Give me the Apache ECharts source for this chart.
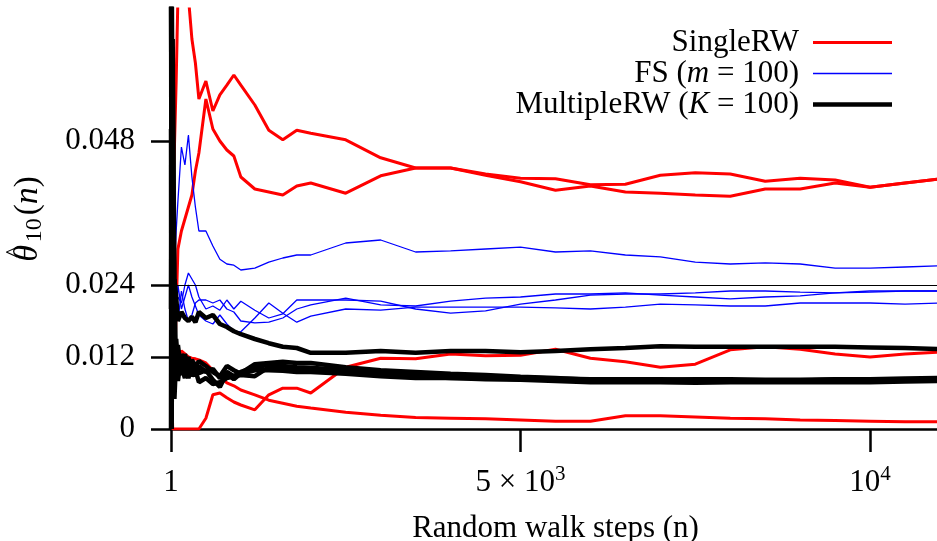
<!DOCTYPE html>
<html>
<head>
<meta charset="utf-8">
<script src="https://cdn.jsdelivr.net/npm/echarts@6/dist/echarts.min.js"></script>
<style>html,body{margin:0;padding:0;background:#fff;}#c{width:937px;height:541px;}</style>
</head>
<body>
<div id="c"></div>
<script>
// Random walk steps (x positions of samples)
const steps = [1,10,25,50,75,100,150,200,250,300,350,400,500,600,700,800,900,1000,1200,1400,1600,1800,2000,2500,3000,3500,4000,4500,5000,5500,6000,6500,7000,7500,8000,8500,9000,9500,10000,10500,11000];

// SingleRW runs
const singleRW1 = [0.03,0.045,0.038,0.047,0.058,0.072,0.071,0.073,0.072,0.065,0.061,0.055,0.058,0.053,0.0557,0.0573,0.059,0.0573,0.054,0.0498,0.0482,0.0498,0.0493,0.0482,0.0452,0.0435,0.0435,0.0425,0.0418,0.0417,0.0407,0.0408,0.0423,0.0427,0.0425,0.0413,0.0418,0.0415,0.0403,0.041,0.0417];
const singleRW2 = [0.0,0.012,0.005,0.009,0.02,0.030,0.033,0.035,0.037,0.039,0.043,0.046,0.055,0.05,0.048,0.0465,0.0455,0.042,0.040,0.0395,0.039,0.0405,0.041,0.0393,0.0422,0.0435,0.0435,0.0423,0.0412,0.0398,0.0405,0.0395,0.0393,0.039,0.0388,0.040,0.040,0.041,0.0403,0.041,0.0417];
const singleRW3 = [0.02,0.008,0,0,0,0,0,0,0,0,0,0,0.0018,0.0057,0.006,0.0052,0.0045,0.004,0.0032,0.0057,0.0068,0.0068,0.006,0.0103,0.0118,0.0117,0.0125,0.0122,0.0123,0.0133,0.0118,0.0112,0.0103,0.0108,0.0132,0.0137,0.0133,0.0125,0.012,0.0125,0.0128];
const singleRW4 = [0.07,0.03,0.018,0.014,0.01,0.012,0.013,0.0125,0.012,0.0118,0.0117,0.0115,0.011,0.0098,0.0088,0.0077,0.0072,0.0065,0.0057,0.0048,0.0043,0.0038,0.0035,0.0028,0.0023,0.0019,0.0018,0.0017,0.0015,0.0013,0.0013,0.0022,0.0022,0.002,0.0018,0.0017,0.0015,0.0014,0.0013,0.0012,0.0012];

// FS (m = 100) runs
const fs1 = [0.015,0.03,0.02,0.027,0.033,0.038,0.047,0.044,0.049,0.042,0.037,0.033,0.033,0.0305,0.0283,0.0275,0.0273,0.0265,0.0268,0.0278,0.0285,0.029,0.029,0.031,0.0315,0.0295,0.0297,0.030,0.0303,0.0295,0.0297,0.029,0.0287,0.0278,0.0275,0.0277,0.0275,0.0268,0.0268,0.027,0.0272];
const fs2 = [0.02,0.012,0.02,0.015,0.02,0.022,0.021,0.024,0.026,0.025,0.024,0.022,0.02,0.0205,0.0198,0.0215,0.020,0.0213,0.0198,0.0185,0.0192,0.0215,0.0215,0.0215,0.0213,0.0200,0.0193,0.0197,0.0208,0.0215,0.0223,0.0225,0.0225,0.0227,0.0230,0.023,0.0228,0.0227,0.0228,0.023,0.0230];
const fs3 = [0.01,0.025,0.016,0.022,0.018,0.024,0.02,0.022,0.024,0.022,0.0205,0.019,0.018,0.0175,0.019,0.0175,0.0163,0.0162,0.0185,0.021,0.0193,0.0178,0.0188,0.020,0.0198,0.0203,0.0203,0.0203,0.0203,0.0202,0.020,0.0203,0.0208,0.0207,0.0205,0.0205,0.021,0.021,0.021,0.0208,0.021];
const fs4 = [0.03,0.008,0.02,0.012,0.025,0.018,0.023,0.02,0.018,0.019,0.021,0.0215,0.0215,0.021,0.0215,0.020,0.0195,0.018,0.0177,0.0178,0.0185,0.020,0.0207,0.0218,0.0207,0.0205,0.0213,0.0218,0.022,0.0225,0.0225,0.0227,0.0223,0.022,0.0217,0.022,0.0222,0.0227,0.023,0.023,0.023];

// MultipleRW (K = 100) runs
const multiRW1 = [0.075,0.04,0.06,0.025,0.022,0.018,0.0195,0.0185,0.018,0.0187,0.0178,0.0195,0.0185,0.019,0.0175,0.0170,0.0163,0.0158,0.0150,0.0143,0.0137,0.0135,0.0127,0.0127,0.013,0.0127,0.013,0.013,0.0128,0.013,0.0133,0.0135,0.0138,0.0137,0.0137,0.0137,0.0137,0.0137,0.0136,0.0135,0.0133];
const multiRW2 = [0.0,0.08,0.02,0.005,0.012,0.008,0.0125,0.0105,0.012,0.0095,0.011,0.0093,0.0098,0.0082,0.007,0.0093,0.0083,0.0093,0.0108,0.011,0.0112,0.011,0.011,0.0103,0.0098,0.0095,0.0092,0.009,0.0087,0.0085,0.0082,0.0082,0.0082,0.0083,0.0083,0.0082,0.0082,0.0083,0.0083,0.0084,0.0085];
const multiRW3 = [0.085,0.0,0.03,0.01,0.015,0.011,0.009,0.0125,0.0095,0.0115,0.0105,0.0113,0.0105,0.0095,0.0088,0.0105,0.0098,0.0092,0.0098,0.0098,0.0097,0.0095,0.0095,0.0092,0.0088,0.0085,0.0085,0.0083,0.0082,0.008,0.0078,0.0078,0.0078,0.0077,0.0078,0.0078,0.0078,0.0078,0.0078,0.0079,0.008];
const multiRW4 = [0.02,0.09,0.005,0.025,0.008,0.014,0.0095,0.0105,0.0085,0.0105,0.0088,0.0105,0.0095,0.01,0.0085,0.0095,0.0088,0.009,0.0088,0.0103,0.0102,0.01,0.0098,0.0095,0.0092,0.0088,0.0085,0.0085,0.0083,0.0083,0.0082,0.0081,0.008,0.008,0.0081,0.008,0.0081,0.0082,0.0081,0.0082,0.0083];
const multiRW5 = [0.05,0.0,0.065,0.015,0.01,0.0125,0.0105,0.0085,0.011,0.0088,0.0098,0.0078,0.0085,0.0075,0.0078,0.0085,0.0088,0.0095,0.0103,0.0107,0.0105,0.0103,0.0102,0.0098,0.0095,0.0092,0.009,0.0088,0.0086,0.0084,0.0083,0.0083,0.0083,0.0082,0.0081,0.0081,0.008,0.008,0.0081,0.0082,0.0082];

// Axis ticks and labels
const xTicks = [1, 5000, 10000];
const yTicks = [0, 0.012, 0.024, 0.048];
const trueValue = 0.024;
const names = ['SingleRW', 'FS (m = 100)', 'MultipleRW (K = 100)'];

const FONT = 'Liberation Serif';
const RED = '#ff0000', BLUE = '#0000ff', BLACK = '#000000';
const W_RED = 3, W_BLUE = 1.3, W_BLACK = 4.5;
function pairs(vals){ return steps.map((s,i)=>[s, vals[i]]); }
function mk(name, vals, color, width, extra){
  return Object.assign({
    name: name, type: 'line', data: pairs(vals), symbol: 'none', showSymbol: false,
    lineStyle: {color: color, width: width}, itemStyle: {color: color},
    clip: true, animation: false, z: 2
  }, extra || {});
}
const series = [];
[singleRW1, singleRW2, singleRW3, singleRW4].forEach((v,i)=>series.push(mk(names[0], v, RED, W_RED,
  i===0 ? {markLine: {silent: true, symbol: 'none', precision: 6, label: {show: false},
    lineStyle: {color: '#000', width: 1.2, type: 'solid'}, data: [{yAxis: trueValue}], animation: false}} : null)));
[fs1, fs2, fs3, fs4].forEach(v=>series.push(mk(names[1], v, BLUE, W_BLUE)));
[multiRW1, multiRW2, multiRW3, multiRW4, multiRW5].forEach(v=>series.push(mk(names[2], v, BLACK, W_BLACK)));

function bar(h){ return 'path://M0,0H79V' + h + 'H0Z'; }

const chart = echarts.init(document.getElementById('c'), null, {renderer: 'canvas'});
chart.setOption({
  animation: false,
  backgroundColor: '#fff',
  grid: {left: 171, top: 9, width: 769, height: 420, containLabel: false, outerBoundsMode: 'none'},
  legend: {
    orient: 'vertical', right: 45, top: 27, align: 'right', padding: 0,
    itemWidth: 79, itemHeight: 14, itemGap: 0,
    symbolKeepAspect: true,
    data: [
      {name: names[0], icon: bar(W_RED), itemStyle: {color: RED, borderWidth: 0}},
      {name: names[1], icon: bar(W_BLUE), itemStyle: {color: BLUE, borderWidth: 0}},
      {name: names[2], icon: bar(W_BLACK), itemStyle: {color: BLACK, borderWidth: 0}}
    ],
    formatter: function(n){
      if (n === names[1]) return '{r|FS (}{i|m}{r| = 100)}';
      if (n === names[2]) return '{r|MultipleRW (}{i|K}{r| = 100)}';
      return '{r|' + n + '}';
    },
    textStyle: {fontFamily: FONT, fontSize: 31, color: '#000', padding: [0, 9, 0, 0],
      rich: {r: {fontFamily: FONT, fontSize: 31, lineHeight: 29, color: '#000'},
             i: {fontFamily: FONT, fontSize: 31, lineHeight: 29, fontStyle: 'italic', color: '#000'}}}
  },
  xAxis: {
    type: 'value', min: 1, max: 11000,
    name: 'Random walk steps (n)', nameLocation: 'middle', nameGap: 84,
    nameTextStyle: {fontFamily: FONT, fontSize: 31, color: '#000'},
    axisLine: {show: true, lineStyle: {color: '#000', width: 2.5}},
    axisTick: {show: true, length: 23, lineStyle: {color: '#000', width: 2.5}, customValues: xTicks},
    axisLabel: {customValues: xTicks, margin: 38, color: '#000',
      formatter: function(v){
        if (v === 1) return '{n|1}';
        if (v === 5000) return '{n|5 × 10}{sup|3}';
        if (v === 10000) return '{n|10}{sup|4}';
        return '';
      },
      rich: {n: {fontFamily: FONT, fontSize: 31, lineHeight: 31, color: '#000'},
             sup: {fontFamily: FONT, fontSize: 21, lineHeight: 21, padding: [0, 0, 16, 0], color: '#000'}}},
    splitLine: {show: false}
  },
  yAxis: {
    type: 'value', min: 0, max: 0.07,
    name: '{h|^}\n{i|θ}{s|10}{r|(}{n|n}{r|)}', nameLocation: 'middle', nameGap: 131,
    nameTextStyle: {fontFamily: FONT, fontSize: 33, color: '#000', align: 'center',
      rich: {h: {fontFamily: FONT, fontSize: 24, lineHeight: 3, padding: [0, 66, 0, 0]},
             i: {fontFamily: FONT, fontSize: 34, lineHeight: 24, fontStyle: 'italic', padding: [0, 3, 0, 0]},
             n: {fontFamily: FONT, fontSize: 34, lineHeight: 24, fontStyle: 'italic'},
             r: {fontFamily: FONT, fontSize: 33, lineHeight: 24},
             s: {fontFamily: FONT, fontSize: 24, lineHeight: 4, padding: [14, 3, 0, 0]}}},
    axisLine: {show: false},
    axisTick: {show: true, length: 20, lineStyle: {color: '#000', width: 2.5}, customValues: yTicks},
    axisLabel: {customValues: yTicks, margin: 36, color: '#000', fontFamily: FONT, fontSize: 31,
      formatter: function(v){ return v === 0 ? '0' : v.toFixed(3); }},
    splitLine: {show: false}
  },
  series: series
});
</script>
</body>
</html>
